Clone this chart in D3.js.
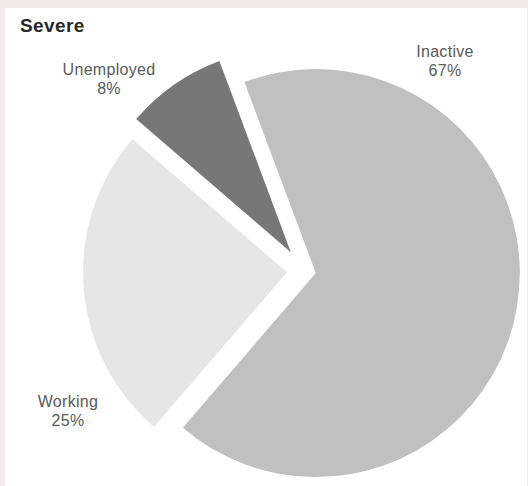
<!DOCTYPE html>
<html>
<head>
<meta charset="utf-8">
<script src="https://cdn.jsdelivr.net/npm/d3@7"></script>
<style>
  html, body { margin: 0; padding: 0; background: #fff; }
  svg { display: block; font-family: "Liberation Sans", Arial, sans-serif; }
</style>
</head>
<body>
<svg id="chart"></svg>
<script>
const categories = ['Inactive', 'Working', 'Unemployed'];
const values = [67, 25, 8];
const pctLabels = ['67%', '25%', '8%'];
const sliceColors = ['#c0c0c0', '#e6e6e6', '#777777'];
const explode = [12, 17, 23];          // push-out distance for each slice
const labelAt = [[445, 57], [68, 407], [109, 75]];  // label anchors (first baseline)

const width = 528, height = 486;
const cx = 304, cy = 271, radius = 204;
const startDeg = -20.5;

const svg = d3.select('#chart').attr('width', width).attr('height', height);

// pink frame + white panel
svg.append('rect').attr('width', width).attr('height', height).attr('fill', '#f4e9e9');
svg.append('rect').attr('x', 5).attr('y', 8).attr('width', width - 6).attr('height', height - 8)
  .attr('fill', '#fff');

svg.append('text')
  .attr('x', 20).attr('y', 32)
  .attr('font-size', 19).attr('font-weight', 'bold').attr('fill', '#2a2a2a')
  .attr('letter-spacing', 0.4)
  .text('Severe');

const start = startDeg * Math.PI / 180;
const pie = d3.pie().sort(null).value(d => d)
  .startAngle(start).endAngle(start + 2 * Math.PI);
const arcs = pie(values);
const arc = d3.arc().innerRadius(0).outerRadius(radius);

const g = svg.append('g').attr('transform', `translate(${cx},${cy})`);

g.selectAll('path.slice')
  .data(arcs)
  .join('path')
  .attr('class', 'slice')
  .attr('d', arc)
  .attr('fill', (d, i) => sliceColors[i])
  .attr('transform', (d, i) => {
    const mid = (d.startAngle + d.endAngle) / 2;
    return `translate(${Math.sin(mid) * explode[i]},${-Math.cos(mid) * explode[i]})`;
  });

// labels: name on first line, share on second
const labels = svg.selectAll('text.lbl')
  .data(categories)
  .join('text')
  .attr('class', 'lbl')
  .attr('text-anchor', 'middle')
  .attr('font-size', 16)
  .attr('letter-spacing', 0.3)
  .attr('fill', '#5a5a5a');

labels.append('tspan')
  .attr('x', (d, i) => labelAt[i][0]).attr('y', (d, i) => labelAt[i][1])
  .text(d => d);
labels.append('tspan')
  .attr('x', (d, i) => labelAt[i][0]).attr('dy', 19)
  .text((d, i) => pctLabels[i]);
</script>
</body>
</html>
